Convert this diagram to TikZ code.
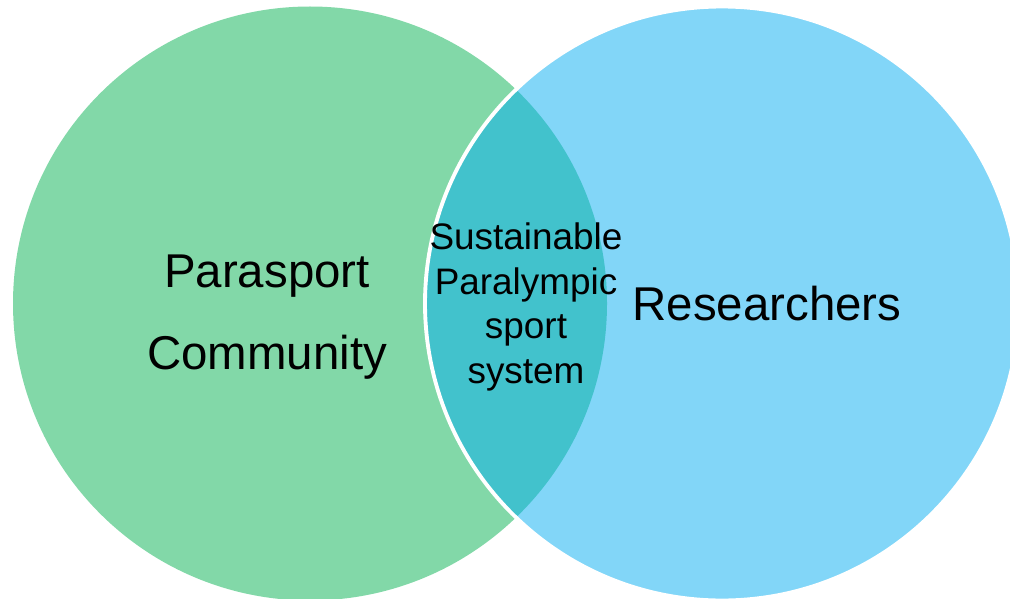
\documentclass[tikz,border=0pt]{standalone}
\usepackage{fontspec}
\setmainfont{Liberation Sans}
\definecolor{communitygreen}{RGB}{130,216,168}
\definecolor{researchblue}{RGB}{130,214,248}
\definecolor{overlapteal}{RGB}{66,194,204}

\begin{document}
\begin{tikzpicture}[x=0.02cm, y=-0.02cm,
    bigtext/.style={align=center, inner sep=0pt, font=\fontsize{27}{47}\selectfont},
    lenstext/.style={align=center, inner sep=0pt, font=\fontsize{21}{25.3}\selectfont}]
    \useasboundingbox (0,0) rectangle (1010,598);
    \clip (0,0) rectangle (1010,598); % page edges cut both circles
    \coordinate (LeftCentre)  at (310,303.5);
    \coordinate (RightCentre) at (722,303.5);
    \fill[communitygreen] (LeftCentre) circle (297);
    \fill[researchblue] (RightCentre) circle (297);
    % the shared part of both circles
    \begin{scope}
      \clip (LeftCentre) circle (297);
      \fill[overlapteal] (RightCentre) circle (297);
    \end{scope}
    \draw[white, line width=2.2pt] (RightCentre) circle (297);

    \node[bigtext]  (Community)   at (267,317) {Parasport\\Community};
    \node[lenstext] (System)      at (526,307) {Sustainable\\Paralympic\\sport\\system};
    \node[bigtext]  (Researchers) at (767,304) {Researchers};
\end{tikzpicture}
\end{document}
